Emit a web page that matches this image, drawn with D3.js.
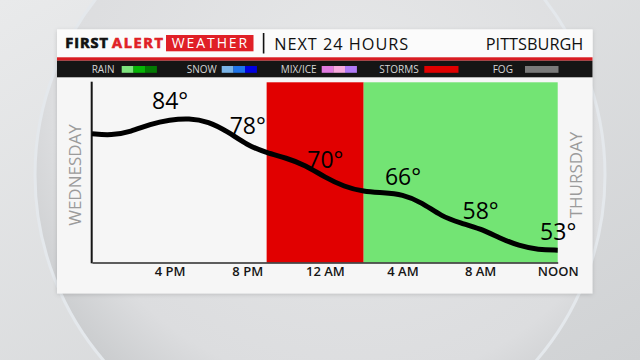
<!DOCTYPE html>
<html>
<head>
<meta charset="utf-8">
<script src="https://cdn.jsdelivr.net/npm/d3@7/dist/d3.min.js"></script>
<style>
  html, body { margin: 0; padding: 0; background: #d6d8da; }
  svg { display: block; }
  text { font-family: "Open Sans", "DejaVu Sans", sans-serif; }
</style>
</head>
<body>
<svg id="chart" width="640" height="360"></svg>
<script>
// ---------------- DATA ----------------
const hours = [0,1,2,3,4,5,6,7,8,9,10,11,12,13,14,15,16,17,18,19,20,21,22,23,24];
const temps = [80.5,80.1,81.0,82.8,83.8,84.2,83.4,81.0,77.8,76,74.8,73.1,70.2,68,66.8,66.6,66.2,64.3,61.0,59.4,58.1,55.9,54,53.1,53];

const tickHours = [4, 8, 12, 16, 20, 24];
const tickLabels = ["4 PM", "8 PM", "12 AM", "4 AM", "8 AM", "NOON"];

const labelHours = [4, 8, 12, 16, 20, 24];
const labelTemps = [84, 78, 70, 66, 58, 53];

const bandTypes = ["STORMS", "RAIN"];
const bandStart = [9, 14];
const bandEnd = [14, 24];

const legendNames = ["RAIN", "SNOW", "MIX/ICE", "STORMS", "FOG"];
const legendColors = [
  ["#7de37d", "#06b406", "#037a03"],
  ["#79b3e6", "#1f74ea", "#0000e0"],
  ["#e07ae0", "#f7a9de", "#b07af7"],
  ["#e00000"],
  ["#7a7a7a"]
];

const titleParts = ["FIRST", "ALERT", "WEATHER"];
const subtitle = "NEXT 24 HOURS";
const city = "PITTSBURGH";
const dayLeft = "WEDNESDAY";
const dayRight = "THURSDAY";

// ---------------- LAYOUT ----------------
const svg = d3.select("#chart");
const W = 640, H = 360;
const card = {x: 57, y: 29.5, w: 535.5, h: 264};
const plot = {left: 92, right: 557.7, top: 82.3, bottom: 262.5};

const x = d3.scaleLinear().domain([0, 24]).range([plot.left, plot.right]);
const y = d3.scaleLinear().domain([50.2, 92.5]).range([262, 83]);
const bandColor = d3.scaleOrdinal().domain(["STORMS", "RAIN"]).range(["#e10000", "#73e474"]);

const defs = svg.append("defs");
const bg = defs.append("linearGradient").attr("id", "bgG").attr("x1", 0).attr("y1", 0).attr("x2", 1).attr("y2", 1);
bg.append("stop").attr("offset", 0).attr("stop-color", "#e9eaeb");
bg.append("stop").attr("offset", 1).attr("stop-color", "#d0d2d4");
const cg = defs.append("radialGradient").attr("id", "circG").attr("cx", 0.55).attr("cy", 0.35).attr("r", 0.65);
cg.append("stop").attr("offset", 0).attr("stop-color", "#e6e7e8");
cg.append("stop").attr("offset", 0.8).attr("stop-color", "#dcdddf");
cg.append("stop").attr("offset", 1).attr("stop-color", "#c9cbcd");
const sh = defs.append("filter").attr("id", "shadow").attr("x", -0.1).attr("y", -0.1).attr("width", 1.2).attr("height", 1.2);
sh.append("feDropShadow").attr("dx", 0).attr("dy", 1).attr("stdDeviation", 2).attr("flood-color", "#000").attr("flood-opacity", 0.15);

// Background
svg.append("rect").attr("width", W).attr("height", H).attr("fill", "url(#bgG)");
svg.append("circle").attr("cx", 320).attr("cy", 175).attr("r", 285)
  .attr("fill", "url(#circG)").attr("stroke", "#e4e8ec").attr("stroke-width", 3);

// Card
svg.append("rect").attr("x", card.x).attr("y", card.y).attr("width", card.w).attr("height", card.h)
  .attr("fill", "#f6f6f6").attr("filter", "url(#shadow)");
svg.append("rect").attr("x", card.x).attr("y", card.y).attr("width", card.w).attr("height", 28)
  .attr("fill", "#fbfbfb");
// red stripe + black legend bar
svg.append("rect").attr("x", card.x).attr("y", 57.3).attr("width", card.w).attr("height", 3.4).attr("fill", "#d91c22");
svg.append("rect").attr("x", card.x).attr("y", 60.7).attr("width", card.w).attr("height", 16.6).attr("fill", "#151515");

// Title
svg.append("text").attr("x", 65.3).attr("y", 48.4).attr("font-family", "Liberation Sans, Arial, sans-serif")
  .attr("font-weight", 700).attr("font-size", 14.5).attr("fill", "#111").attr("stroke", "#111").attr("stroke-width", 0.7)
  .attr("textLength", 42.5).text(titleParts[0]);
svg.append("text").attr("x", 112).attr("y", 48.4).attr("font-family", "Liberation Sans, Arial, sans-serif")
  .attr("font-weight", 700).attr("font-size", 14.5).attr("fill", "#e01f26").attr("stroke", "#e01f26").attr("stroke-width", 0.7)
  .attr("textLength", 51).text(titleParts[1]);
svg.append("rect").attr("x", 166).attr("y", 35).attr("width", 87.5).attr("height", 16.3).attr("fill", "#e01f26");
svg.append("text").attr("x", 171.7).attr("y", 48.4).attr("font-size", 14).attr("fill", "#fff")
  .attr("textLength", 75.5).text(titleParts[2]);
svg.append("rect").attr("x", 262.8).attr("y", 33).attr("width", 1.6).attr("height", 20.5).attr("fill", "#111");
svg.append("text").attr("x", 274.2).attr("y", 50.1).attr("font-size", 16.3).attr("fill", "#111")
  .attr("textLength", 134).text(subtitle);
svg.append("text").attr("x", 583.3).attr("y", 50.1).attr("text-anchor", "end").attr("font-size", 16.3).attr("fill", "#111")
  .text(city);

// Legend
const legendTextX = [91.7, 186.7, 280.7, 379.3, 492.7];
const legendSwX = [121.7, 221.7, 321.7, 424.3, 525];
const legendSwW = [35, 35, 35, 34, 33.3];
const lg = svg.append("g");
legendNames.forEach((name, i) => {
  lg.append("text").attr("x", legendTextX[i]).attr("y", 73.3).attr("font-size", 10).attr("fill", "#d6d6d6").text(name);
  const cols = legendColors[i];
  const w = legendSwW[i] / cols.length;
  cols.forEach((c, j) => {
    lg.append("rect").attr("x", legendSwX[i] + j * w).attr("y", 66).attr("width", w + 0.2).attr("height", 6.8).attr("fill", c);
  });
});

// Bands
svg.append("g").selectAll("rect").data(bandTypes).join("rect")
  .attr("x", (d, i) => x(bandStart[i]))
  .attr("width", (d, i) => x(bandEnd[i]) - x(bandStart[i]))
  .attr("y", plot.top).attr("height", plot.bottom - plot.top)
  .attr("fill", d => bandColor(d));

// Axes
svg.append("line").attr("x1", 91.7).attr("x2", 91.7).attr("y1", 81.7).attr("y2", 263.3)
  .attr("stroke", "#161616").attr("stroke-width", 2);
const xAxis = d3.axisBottom(x).tickValues(tickHours).tickSize(0).tickPadding(4)
  .tickFormat((d, i) => tickLabels[i]);
const ax = svg.append("g").attr("transform", `translate(0,${plot.bottom})`).call(xAxis);
ax.select(".domain").attr("stroke", "#2a2a2a").attr("stroke-width", 1.5);
ax.selectAll("text").attr("font-family", "Open Sans, sans-serif").attr("font-size", 13).attr("font-weight", 600)
  .attr("fill", "#161616").attr("dy", 0).attr("y", 13);

// Day labels
svg.append("text").attr("transform", "translate(80.5,175) rotate(-90)").attr("text-anchor", "middle")
  .attr("font-size", 17).attr("fill", "#9b9b9b").text(dayLeft);
svg.append("text").attr("transform", "translate(581.5,175) rotate(-90)").attr("text-anchor", "middle")
  .attr("font-size", 17).attr("fill", "#9b9b9b").text(dayRight);

// Temperature line
const line = d3.line().x((d, i) => x(hours[i])).y(d => y(d)).curve(d3.curveBasis);
svg.append("path").datum(temps).attr("d", line).attr("fill", "none")
  .attr("stroke", "#000").attr("stroke-width", 5).attr("stroke-linejoin", "round");

// Temperature labels
svg.append("g").selectAll("text").data(labelTemps).join("text")
  .attr("x", (d, i) => x(labelHours[i]) + 0.5)
  .attr("y", d => y(d) - 10)
  .attr("text-anchor", "middle")
  .attr("font-size", 23).attr("fill", "#000")
  .text(d => d + "°");
</script>
</body>
</html>
